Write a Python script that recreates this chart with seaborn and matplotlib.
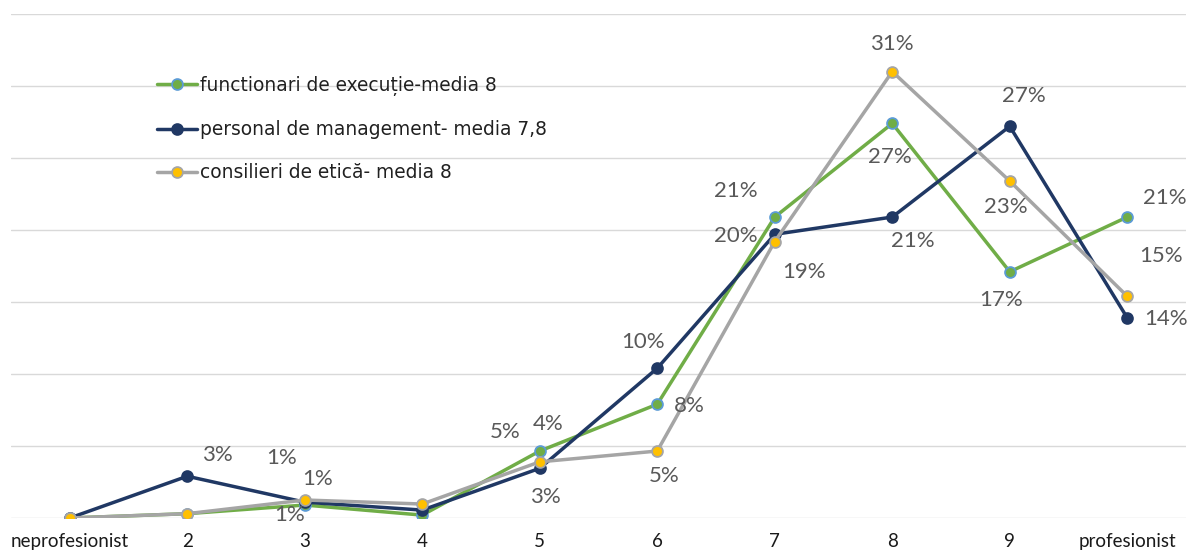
import matplotlib
matplotlib.use("Agg")
import matplotlib.pyplot as plt
import seaborn as sns
import pandas as pd

# Categories on the x axis (professionalism scale)
categories = ["neprofesionist", "2", "3", "4", "5", "6", "7", "8", "9", "profesionist"]

# Percentages per respondent group
functionari = [0.0, 0.3, 0.9, 0.2, 4.65, 7.9, 20.9, 27.4, 17.1, 20.9]
management = [0.0, 2.9, 1.1, 0.55, 3.45, 10.4, 19.7, 20.9, 27.2, 13.9]
consilieri = [0.0, 0.3, 1.25, 0.97, 3.9, 4.65, 19.2, 31.0, 23.4, 15.4]

series_names = [
    "functionari de execuție-media 8",
    "personal de management- media 7,8",
    "consilieri de etică- media 8",
]

df = pd.DataFrame({
    "cat": categories * 3,
    "x": list(range(len(categories))) * 3,
    "val": functionari + management + consilieri,
    "grup": [series_names[0]] * 10 + [series_names[1]] * 10 + [series_names[2]] * 10,
})

line_colors = {series_names[0]: "#70AD47", series_names[1]: "#203864", series_names[2]: "#A5A5A5"}
marker_face = {series_names[0]: "#70AD47", series_names[1]: "#203864", series_names[2]: "#FFC000"}
marker_edge = {series_names[0]: "#5B9BD5", series_names[1]: "#203864", series_names[2]: "#A5A5A5"}

sns.set_theme(style="white")
plt.rcParams["font.family"] = ["DejaVu Sans"]

fig = plt.figure(figsize=(11.89, 5.52), dpi=100)
ax = fig.add_axes([11 / 1189, 34 / 552, 1175 / 1189, 504 / 552])

for g in series_names:
    sub = df[df["grup"] == g]
    sns.lineplot(data=sub, x="x", y="val", ax=ax, color=line_colors[g], linewidth=2.5,
                 marker="o", markersize=7.8, markerfacecolor=marker_face[g],
                 markeredgecolor=marker_edge[g], markeredgewidth=1.3, label=g,
                 sort=False, zorder=3)

ax.set_xlim(-0.5, len(categories) - 0.5)
ax.set_ylim(0, 35)
ax.set_yticks(range(0, 36, 5))
ax.set_yticklabels([])
ax.tick_params(axis="y", length=0)
ax.grid(axis="y", color="#D9D9D9", linewidth=1)
ax.set_axisbelow(True)
for s in ax.spines.values():
    s.set_visible(False)
ax.set_xlabel("")
ax.set_ylabel("")
ax.set_xticks(range(len(categories)))
ax.set_xticklabels(categories, fontfamily="Lato", fontsize=13.5, color="#1a1a1a")
ax.tick_params(axis="x", length=0, pad=11)

# Data labels: (series values, index, offset in points)
label_spec = [
    (management, 1, (22, 15)),
    (management, 2, (-17, 32)),
    (consilieri, 2, (9, 15)),
    (functionari, 2, (-11, -7)),
    (functionari, 4, (-25, 14)),
    (consilieri, 4, (6, 27)),
    (management, 4, (4, -21)),
    (management, 5, (-10, 19)),
    (functionari, 5, (23, -1)),
    (consilieri, 5, (5, -18)),
    (functionari, 6, (-28, 19)),
    (management, 6, (-28, -1)),
    (consilieri, 6, (21, -22)),
    (consilieri, 7, (0, 20)),
    (functionari, 7, (-2, -24)),
    (management, 7, (15, -17)),
    (management, 8, (10, 22)),
    (consilieri, 8, (-3, -19)),
    (functionari, 8, (-6, -20)),
    (functionari, 9, (27, 14)),
    (consilieri, 9, (24, 29)),
    (management, 9, (28, -1)),
]
for vals, i, off in label_spec:
    ax.annotate(f"{vals[i]:.0f}%", xy=(i, vals[i]), xytext=off, textcoords="offset points",
                ha="center", va="center", fontsize=16, color="#595959",
                fontfamily="Lato", zorder=4)

leg = ax.legend(loc="upper left", bbox_to_anchor=(0.124, 0.877), frameon=False,
                fontsize=13.4, handlelength=2.15, labelspacing=1.3, handletextpad=0.15,
                borderaxespad=0, borderpad=0)
for t in leg.get_texts():
    t.set_color("#202020")

fig.savefig("out.png", dpi=100, facecolor="white")
